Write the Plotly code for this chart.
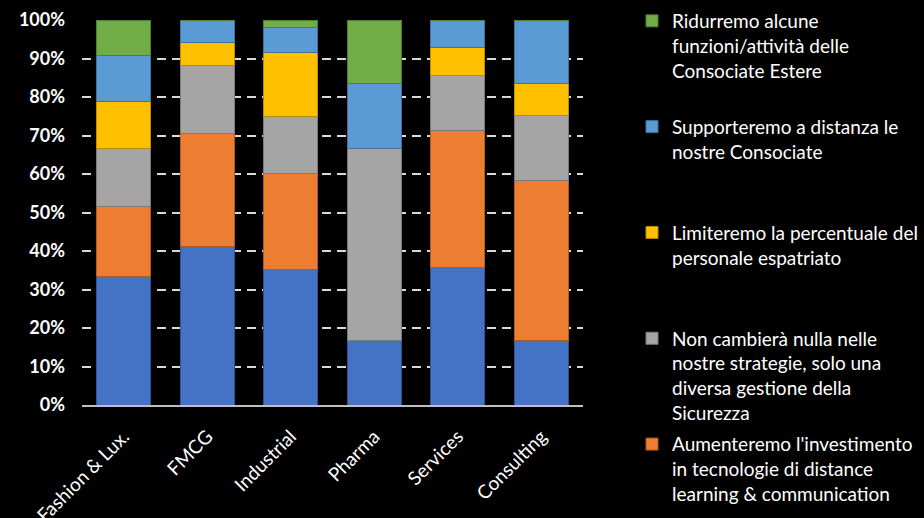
import plotly.graph_objects as go

categories = ["Fashion & Lux.", "FMCG", "Industrial", "Pharma", "Services", "Consulting"]

series_names = [
    "Altro",
    "Aumenteremo l'investimento<br>in tecnologie di distance<br>learning & communication",
    "Non cambierà nulla nelle<br>nostre strategie, solo una<br>diversa gestione della<br>Sicurezza",
    "Limiteremo la percentuale del<br>personale espatriato",
    "Supporteremo a distanza le<br>nostre Consociate",
    "Ridurremo alcune<br>funzioni/attività delle<br>Consociate Estere",
]
series_colors = ["#4472C4", "#ED7D31", "#A5A5A5", "#FFC000", "#5B9BD5", "#70AD47"]
series_edges = ["#2F528F", "#AE5A21", "#7B7B7B", "#BC8C00", "#41719C", "#507E32"]

v_blue = [33.3, 41.2, 35.1, 16.7, 35.7, 16.7]
v_orange = [18.2, 29.4, 25.0, 0.0, 35.7, 41.7]
v_gray = [15.2, 17.6, 14.9, 50.0, 14.3, 16.7]
v_yellow = [12.1, 5.9, 16.5, 0.0, 7.1, 8.3]
v_lightblue = [12.1, 5.9, 6.5, 16.7, 7.2, 16.6]
v_green = [9.1, 0.0, 2.0, 16.6, 0.0, 0.0]

series_values = [v_blue, v_orange, v_gray, v_yellow, v_lightblue, v_green]

FONT = "Lato, 'Open Sans', sans-serif"
W, H = 924, 518
MT, MB = 0, 0
GH = H - MT - MB
# plot area in pixels
PX0, PX1, PY0, PY1 = 82, 583, 20, 405

fig = go.Figure()
max_lines = 4
n = len(series_names)
for i, (name, col, edge, vals) in enumerate(zip(series_names, series_colors, series_edges, series_values)):
    n_lines = name.count("<br>") + 1
    pad = "<br>&nbsp;" * (max_lines - n_lines) if i != 1 else ""
    fig.add_trace(go.Bar(
        x=categories,
        y=[v / 100 for v in vals],
        name=name + pad,
        marker=dict(color=col, line=dict(color=edge, width=1)),
        legendgroup=f"g{i}",
        legendrank=n - i,
        showlegend=(i != 0),
    ))

fig.update_layout(
    barmode="stack",
    bargap=0.35,
    width=W,
    height=H,
    margin=dict(l=0, r=0, t=MT, b=MB, autoexpand=False),
    paper_bgcolor="black",
    plot_bgcolor="black",
    font=dict(family=FONT, color="white", size=16),
    legend=dict(
        x=632 / W, xanchor="left",
        y=1 - 2 / GH, yanchor="top",
        tracegroupgap=4,
        valign="top",
        font=dict(family=FONT, size=19, color="white"),
        bgcolor="rgba(0,0,0,0)",
        itemwidth=30,
    ),
    xaxis=dict(
        domain=[PX0 / W, PX1 / W],
        automargin=False,
        tickangle=-45,
        tickfont=dict(family=FONT, size=19, color="white"),
        ticklabelstandoff=11,
        ticklabelshift=0,
        showgrid=False,
        showline=True,
        linecolor="#BFBFBF",
        linewidth=2,
        ticks="",
    ),
    yaxis=dict(
        domain=[1 - (PY1 - MT) / GH, 1 - (PY0 - MT) / GH],
        automargin=False,
        range=[0, 1],
        dtick=0.1,
        tickformat=".0%",
        tickfont=dict(family=FONT, size=18, color="white", weight="bold"),
        ticklabelstandoff=16,
        showgrid=True,
        gridcolor="#D9D9D9",
        gridwidth=2,
        griddash="9px,6px",
        zeroline=False,
        showline=False,
        ticks="",
    ),
)

fig.write_html("out.html")
